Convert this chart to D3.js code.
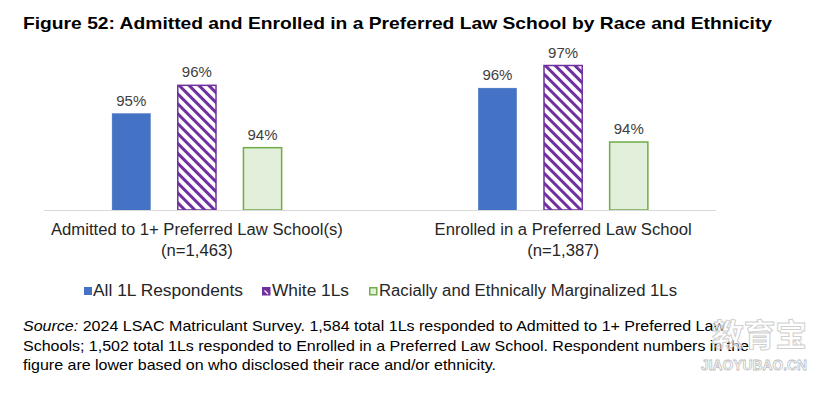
<!DOCTYPE html>
<html><head><meta charset="utf-8">
<script src="https://cdn.jsdelivr.net/npm/d3@7"></script>
<style>
html,body{margin:0;padding:0;background:#fff;}
svg{display:block;font-family:"Liberation Sans",Arial,sans-serif;}
</style></head>
<body><svg id="chart" width="830" height="394"></svg>
<script>
const categories = ["Admitted to 1+ Preferred Law School(s)", "Enrolled in a Preferred Law School"];
const categoryN = ["(n=1,463)", "(n=1,387)"];
const seriesNames = ["All 1L Respondents", "White 1Ls", "Racially and Ethnically Marginalized 1Ls"];
const allRespondents = [95.4, 96.3];
const white1Ls = [96.4, 97.1];
const marginalized1Ls = [94.2, 94.4];
const title = "Figure 52: Admitted and Enrolled in a Preferred Law School by Race and Ethnicity";
const sourceLines = [
  ["Source:", " 2024 LSAC Matriculant Survey. 1,584 total 1Ls responded to Admitted to 1+ Preferred Law"],
  ["", "Schools; 1,502 total 1Ls responded to Enrolled in a Preferred Law School. Respondent numbers in the"],
  ["", "figure are lower based on who disclosed their race and/or ethnicity."]
];

const seriesValues = [allRespondents, white1Ls, marginalized1Ls];
const svg = d3.select("#chart");
const defs = svg.append("defs");
const pat = defs.append("pattern").attr("id","hatch").attr("patternUnits","userSpaceOnUse")
  .attr("width",7).attr("height",7).attr("patternTransform","rotate(-45)");
pat.append("rect").attr("width",7).attr("height",7).attr("fill","#fff");
pat.append("rect").attr("width",3).attr("height",7).attr("fill","#7030A0");

const styles = [
  {fill:"#4472C4", stroke:"#4472C4", sw:0.5},
  {fill:"url(#hatch)", stroke:"#7030A0", sw:1.5},
  {fill:"#E2EFDA", stroke:"#70AD47", sw:1.5}
];

// stretch a text element horizontally to a target width
function stretch(sel, w) {
  sel.attr("textLength", w).attr("lengthAdjust", "spacingAndGlyphs");
}
function stretchBy(sel, f) {
  sel.each(function() {
    const L = this.getComputedTextLength();
    d3.select(this).attr("textLength", L * f).attr("lengthAdjust", "spacingAndGlyphs");
  });
}

stretch(svg.append("text").attr("x",23).attr("y",29).attr("font-weight","bold").attr("font-size",17)
  .attr("fill","#000").text(title), 749);

const x0 = d3.scaleBand().domain(categories).range([44,716]).paddingInner(0.533).paddingOuter(0.184);
const x1 = d3.scaleBand().domain(d3.range(3)).range([0,x0.bandwidth()]).paddingInner(0.395);
const y = d3.scaleLinear().domain([92,98]).range([210,40]);
const fmt = v => d3.format(".0f")(v) + "%";

const groups = svg.append("g").selectAll("g").data(categories).join("g")
  .attr("transform", d => `translate(${x0(d)},0)`);
groups.selectAll("rect").data((d,i) => seriesValues.map((s,k)=>({k, v:s[i]}))).join("rect")
  .attr("x", d => x1(d.k)+0.75).attr("width", x1.bandwidth()-1.5)
  .attr("y", d => y(d.v)).attr("height", d => y(92)-y(d.v))
  .attr("fill", d => styles[d.k].fill).attr("stroke", d => styles[d.k].stroke)
  .attr("stroke-width", d => styles[d.k].sw);
groups.selectAll("text.val").data((d,i) => seriesValues.map((s,k)=>({k, v:s[i]}))).join("text")
  .attr("class","val").attr("x", d => x1(d.k)+x1.bandwidth()/2).attr("y", d => y(d.v)-8)
  .attr("text-anchor","middle").attr("font-size",15).attr("fill","#404040").text(d => fmt(d.v));

svg.append("line").attr("x1",44).attr("x2",716).attr("y1",y(92)+0.5).attr("y2",y(92)+0.5)
  .attr("stroke","#d9d9d9").attr("stroke-width",1.2);

const catG = svg.append("g").selectAll("g").data(categories).join("g");
catG.append("text").attr("x", d => x0(d)+x0.bandwidth()/2).attr("y",234.5)
  .attr("text-anchor","middle").attr("font-size",16).attr("fill","#262626").text(d => d)
  .call(stretchBy, 1.04);
catG.append("text").attr("x", d => x0(d)+x0.bandwidth()/2).attr("y",255.5)
  .attr("text-anchor","middle").attr("font-size",16).attr("fill","#262626").text((d,i) => categoryN[i])
  .call(stretchBy, 1.04);

// legend
const legX = [84, 262, 369];
const legW = [150, 77, 298];
const leg = svg.append("g").selectAll("g").data(seriesNames).join("g")
  .attr("transform",(d,i)=>`translate(${legX[i]},0)`);
leg.append("rect").attr("x",(d,i)=> i===0?0:0.75).attr("y",(d,i)=> i===0?287:287.75)
  .attr("width",(d,i)=> i===0?8:7).attr("height",(d,i)=> i===0?8:7)
  .attr("fill",(d,i)=> i===1 ? "#7030A0" : styles[i].fill)
  .attr("stroke",(d,i)=> styles[i].stroke).attr("stroke-width",(d,i)=> i===0?0:1.5);
leg.filter((d,i)=>i===1).append("path").attr("d","M2.5,290.5 L6,294").attr("stroke","#fff").attr("stroke-width",1.2);
leg.append("text").attr("x",(d,i)=> i===0?9:10).attr("y",295.5).attr("font-size",16).attr("fill","#262626").text(d=>d)
  .attr("textLength",(d,i)=>legW[i]).attr("lengthAdjust","spacingAndGlyphs");

// source
const srcW = [702, 726, 473];
const src = svg.append("g").selectAll("text").data(sourceLines).join("text")
  .attr("x",23).attr("y",(d,i)=>331+i*19.5).attr("font-size",15).attr("fill","#000")
  .attr("textLength",(d,i)=>srcW[i]).attr("lengthAdjust","spacingAndGlyphs");
src.append("tspan").attr("font-style","italic").text(d=>d[0]);
src.append("tspan").text(d=>d[1]);

// watermark
svg.append("text").attr("x",712).attr("y",346)
  .attr("font-family","'Noto Sans CJK SC',sans-serif").attr("font-size",31).attr("font-weight","bold")
  .attr("fill","rgba(255,255,255,0.55)").attr("stroke","#cfcfcf").attr("stroke-width",1)
  .attr("textLength",95).attr("lengthAdjust","spacingAndGlyphs").text("教育宝");
svg.append("text").attr("x",701).attr("y",370)
  .attr("font-size",15).attr("font-weight","bold")
  .attr("fill","#fff").attr("stroke","#bdbdbd").attr("stroke-width",0.8)
  .attr("textLength",106).attr("lengthAdjust","spacingAndGlyphs").text("JIAOYUBAO.CN");
</script></body></html>
